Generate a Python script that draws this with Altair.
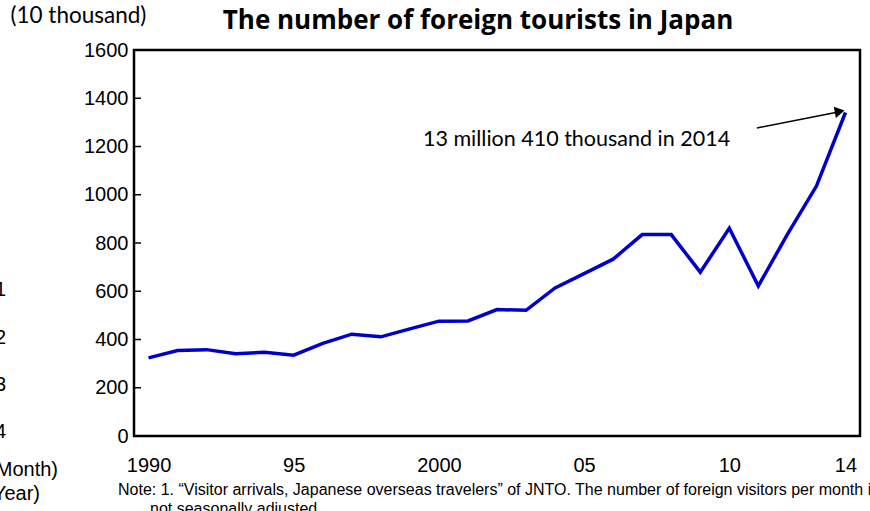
import altair as alt
import pandas as pd

years = list(range(1990, 2015))
visitors = [324, 354, 358, 341, 347, 335, 384, 422, 411, 444, 476, 477, 524, 521,
            614, 673, 733, 835, 835, 679, 861, 622, 836, 1036, 1341]
y_ticks = [0, 200, 400, 600, 800, 1000, 1200, 1400, 1600]
x_ticks = [1990, 1995, 2000, 2005, 2010, 2014]
x_labels = ["1990", "95", "2000", "05", "10", "14"]

title_text = "The number of foreign tourists in Japan"
unit_text = "(10 thousand)"
annot_text = "13 million 410 thousand in 2014"
note1 = "Note: 1. \u201cVisitor arrivals, Japanese overseas travelers\u201d of JNTO. The number of foreign visitors per month is"
note2 = "not seasonally adjusted."
side_texts = ["1", "2", "3", "4", "(Month)", "(Year)"]

df = pd.DataFrame({"year": years, "visitors": visitors})
tick_df = pd.DataFrame({"v": y_ticks})

label_map = "{" + ",".join(f"'{y}':'{l}'" for y, l in zip(x_ticks, x_labels)) + "}"

xscale = alt.Scale(domain=[1989.5, 2014.5], nice=False, zero=False)
yscale = alt.Scale(domain=[0, 1600], nice=False)

LABEL_FONT = "Liberation Sans"
CAL_FONT = "Lato"

x_axis = alt.Axis(values=x_ticks, labelExpr=f"{label_map}[datum.value]",
                  title=None, grid=False, ticks=False, domain=False,
                  labelFont=LABEL_FONT, labelFontSize=20, labelColor="black",
                  labelPadding=19, labelFlush=False)
y_axis = alt.Axis(values=y_ticks, format="d", grid=False, ticks=False, domain=False,
                  labelFont=LABEL_FONT, labelFontSize=20, labelColor="black",
                  labelPadding=6,
                  title=unit_text, titleAngle=0, titleAlign="left",
                  titleBaseline="middle", titleX=-124, titleY=-35,
                  titleFont=CAL_FONT, titleFontSize=22.5, titleFontWeight="normal",
                  titleColor="black")


def X(field):
    return alt.X(field, scale=xscale, axis=x_axis)


def Y(field):
    return alt.Y(field, scale=yscale, axis=y_axis)


line = alt.Chart(df).mark_line(color="#0000CC", strokeWidth=3.5, clip=False).encode(
    x=X("year:Q"), y=Y("visitors:Q"))

ticks = alt.Chart(tick_df).mark_rule(color="black", strokeWidth=1.5).encode(
    y=Y("v:Q"), x=alt.value(0), x2=alt.value(7))

arrow_df = pd.DataFrame({"year": [2010.95, 2013.75], "val": [1277, 1343]})
arrow_line = alt.Chart(arrow_df).mark_line(color="black", strokeWidth=1.5, clip=False).encode(
    x=X("year:Q"), y=Y("val:Q"))
head_df = pd.DataFrame({"year": [2013.8], "val": [1345]})
arrow_head = alt.Chart(head_df).mark_point(shape="triangle-right", filled=True, color="black",
                                           size=130, angle=349, opacity=1, clip=False).encode(
    x=X("year:Q"), y=Y("val:Q"))

annot_df = pd.DataFrame({"year": [1999.45], "val": [1227], "t": [annot_text]})
annot = alt.Chart(annot_df).mark_text(align="left", baseline="middle", font=CAL_FONT,
                                      fontSize=21.5, color="black").encode(
    x=X("year:Q"), y=Y("val:Q"), text="t:N")

title_df = pd.DataFrame({"t": [title_text]})
title = alt.Chart(title_df).mark_text(align="center", baseline="middle", font="Open Sans",
                                      fontSize=26, fontWeight="bold", color="black").encode(
    x=alt.value(344), y=alt.value(-29), text="t:N")

note_df = pd.DataFrame({"t": [note1]})
note_a = alt.Chart(note_df).mark_text(align="left", baseline="middle",
                                      font=LABEL_FONT, fontSize=16, color="black").encode(
    x=alt.value(-16), y=alt.value(440), text="t:N")
note_df2 = pd.DataFrame({"t": [note2]})
note_b = alt.Chart(note_df2).mark_text(align="left", baseline="middle",
                                       font=LABEL_FONT, fontSize=16, color="black").encode(
    x=alt.value(16), y=alt.value(459), text="t:N")

side_df = pd.DataFrame({"t": side_texts,
                        "px": [-128, -128, -128, -128, -76, -94],
                        "py": [240, 288, 335, 382, 420, 444]})
side = alt.Chart(side_df).mark_text(align="right", baseline="middle", font=LABEL_FONT,
                                    fontSize=20, color="black").encode(
    x=alt.X("px:Q", scale=None, axis=None), y=alt.Y("py:Q", scale=None, axis=None),
    text="t:N")

chart = alt.layer(ticks, line, arrow_line, arrow_head, annot, title, note_a, note_b, side).properties(
    width=726, height=386,
    autosize=alt.AutoSizeParams(type="none"),
    padding={"left": 134, "top": 50, "right": 10, "bottom": 75},
    background="white",
).configure_view(stroke="black", strokeWidth=2.5)

chart.save("out.html", embed_options={"renderer": "svg", "actions": False})
